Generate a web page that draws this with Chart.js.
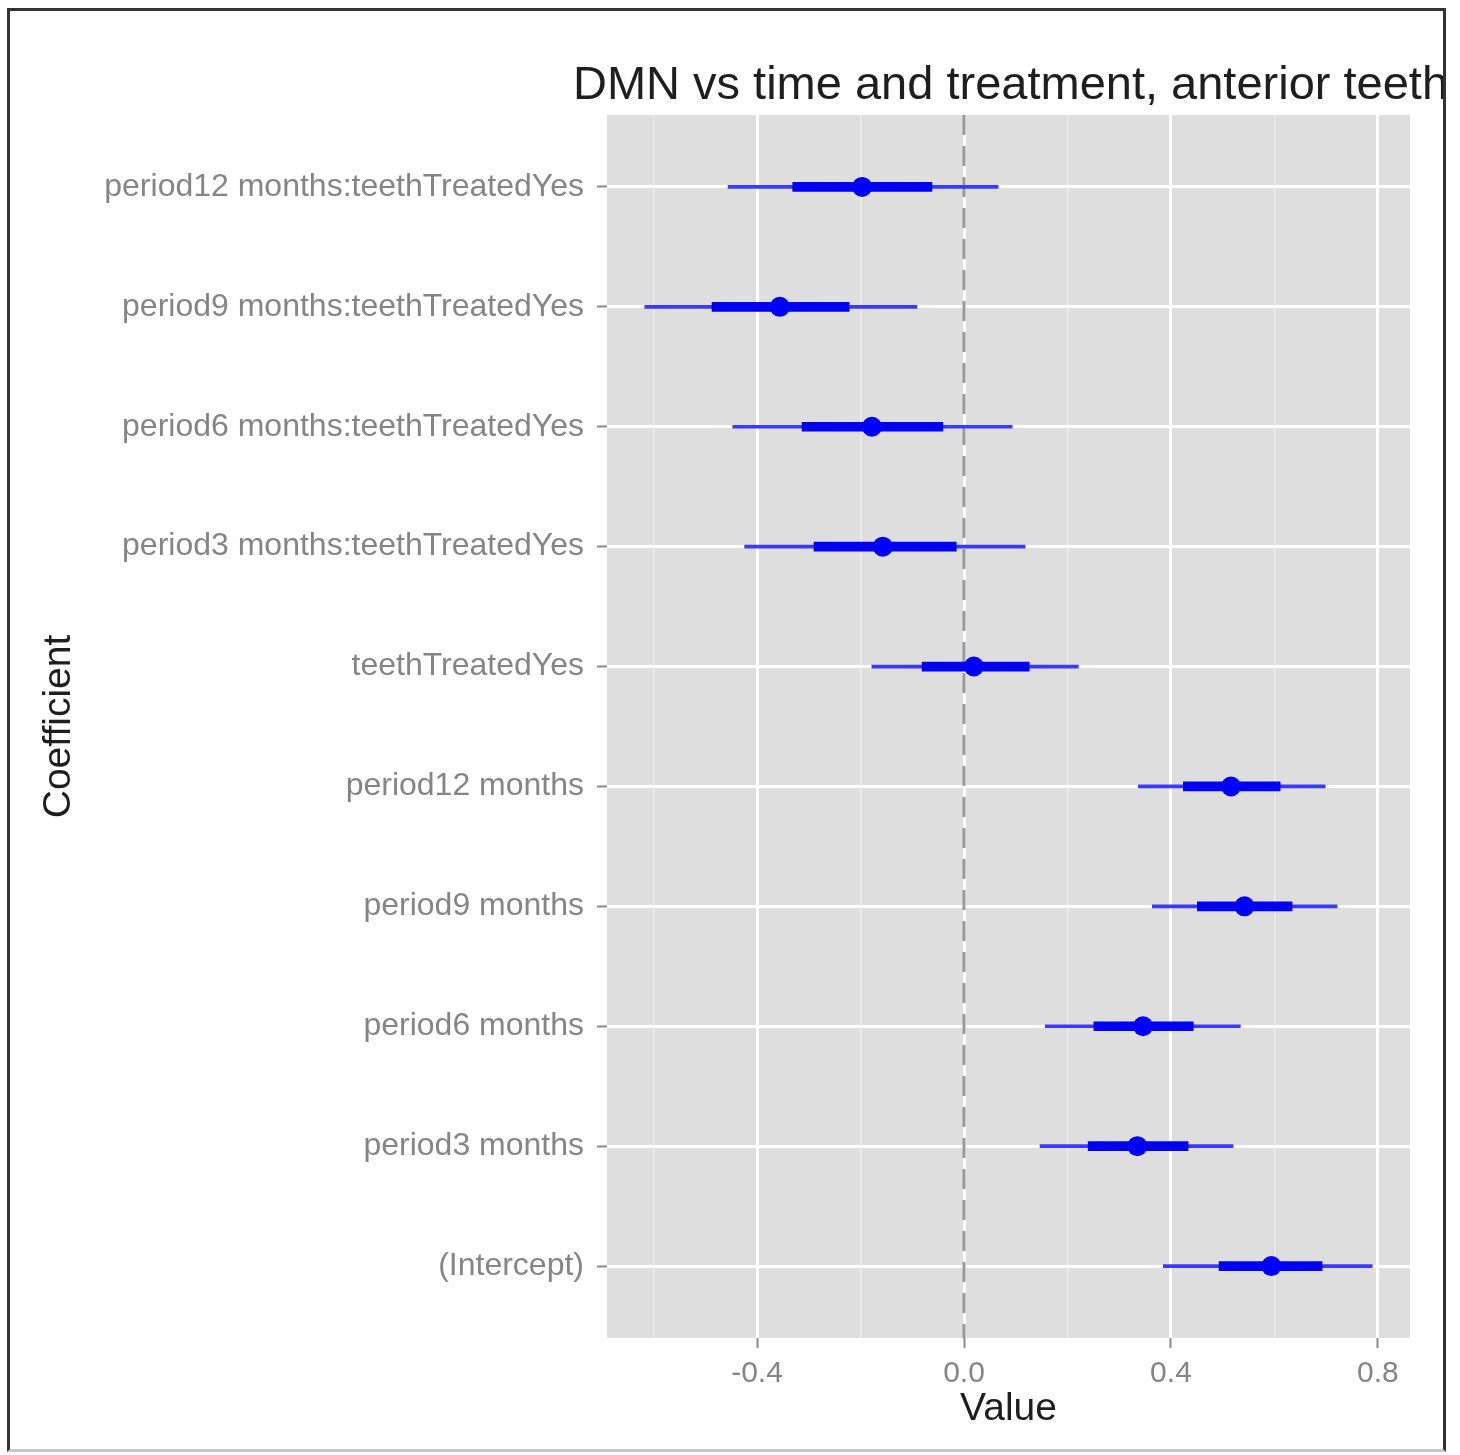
<!DOCTYPE html>
<html>
<head>
<meta charset="utf-8">
<script src="https://cdn.jsdelivr.net/npm/chart.js@4.4.1/dist/chart.umd.min.js"></script>
<style>
  body { margin: 0; background: #fff; }
  #wrap { position: relative; width: 1460px; height: 1455px; }
  #coefChart { position: absolute; left: 0; top: 0; }
  #frame {
    position: absolute; left: 7px; top: 8px; width: 1433px; height: 1438px;
    border: 3px solid #333; border-bottom-color: #c8c8c8; pointer-events: none;
  }
</style>
</head>
<body>
<div id="wrap">
  <canvas id="coefChart" width="1445" height="1455"></canvas>
  <div id="frame"></div>
</div>
<script>
const chartTitle = 'DMN vs time and treatment, anterior teeth';

const coefficients = [
  'period12 months:teethTreatedYes',
  'period9 months:teethTreatedYes',
  'period6 months:teethTreatedYes',
  'period3 months:teethTreatedYes',
  'teethTreatedYes',
  'period12 months',
  'period9 months',
  'period6 months',
  'period3 months',
  '(Intercept)'
];

// point estimates
const estimate = [-0.197, -0.356, -0.178, -0.157, 0.019, 0.516, 0.542, 0.346, 0.335, 0.594];
// inner (thick) interval
const innerLow  = [-0.331, -0.487, -0.313, -0.290, -0.081, 0.424, 0.451, 0.251, 0.240, 0.493];
const innerHigh = [-0.062, -0.222, -0.041, -0.015, 0.126, 0.611, 0.634, 0.443, 0.433, 0.692];
// outer (thin) interval
const outerLow  = [-0.456, -0.617, -0.447, -0.424, -0.178, 0.337, 0.364, 0.157, 0.147, 0.385];
const outerHigh = [0.066, -0.091, 0.093, 0.118, 0.221, 0.698, 0.721, 0.534, 0.520, 0.789];

const xTicks = [-0.6, -0.4, -0.2, 0.0, 0.2, 0.4, 0.6, 0.8];
const xMajor = [-0.4, 0.0, 0.4, 0.8];
const refValue = 0;

const isMajor = v => xMajor.some(m => Math.abs(m - v) < 1e-9);
const FONT = '"Liberation Sans", Arial, Helvetica, sans-serif';

const panelBg = {
  id: 'panelBg',
  beforeDraw(chart) {
    const { ctx, chartArea: a } = chart;
    ctx.save();
    ctx.fillStyle = '#dedede';
    ctx.fillRect(a.left, a.top, a.right - a.left, a.bottom - a.top);
    ctx.restore();
  }
};

const plotTitle = {
  id: 'plotTitle',
  afterDraw(chart) {
    const { ctx, chartArea: a } = chart;
    ctx.save();
    ctx.font = '47px ' + FONT;
    ctx.fillStyle = '#1e1e1e';
    ctx.textAlign = 'center';
    ctx.textBaseline = 'middle';
    ctx.fillText(chartTitle, (a.left + a.right) / 2 + 2, 86);
    ctx.restore();
  }
};

const rows = coefficients.map((_, i) => i);

new Chart(document.getElementById('coefChart').getContext('2d'), {
  type: 'bar',
  data: {
    datasets: [
      {
        type: 'line',
        data: rows.map(i => ({ x: estimate[i], y: i })),
        showLine: false,
        pointRadius: 10,
        pointBorderWidth: 0,
        pointBackgroundColor: '#0000ff'
      },
      {
        data: rows.map(i => ({ y: i, x: [innerLow[i], innerHigh[i]] })),
        backgroundColor: '#0000f0',
        barThickness: 9,
        grouped: false
      },
      {
        data: rows.map(i => ({ y: i, x: [outerLow[i], outerHigh[i]] })),
        backgroundColor: '#3a3aff',
        barThickness: 3,
        grouped: false
      },
      {
        type: 'line',
        data: [{ x: refValue, y: -0.6 }, { x: refValue, y: coefficients.length - 0.4 }],
        borderColor: '#999999',
        borderWidth: 3,
        borderDash: [20, 11],
        pointRadius: 0
      }
    ]
  },
  options: {
    indexAxis: 'y',
    responsive: false,
    animation: false,
    devicePixelRatio: 1,
    layout: { padding: { top: 115, right: 35, left: 0, bottom: 0 } },
    plugins: {
      legend: { display: false },
      tooltip: { enabled: false }
    },
    scales: {
      x: {
        type: 'linear',
        min: -0.69,
        max: 0.862,
        offset: false,
        afterBuildTicks: s => { s.ticks = xTicks.map(v => ({ value: v })); },
        afterFit: s => { s.height = 117; },
        ticks: {
          font: { family: FONT, size: 30 },
          color: '#858585',
          padding: 8,
          callback: v => isMajor(v) ? v.toFixed(1) : ''
        },
        grid: {
          offset: false,
          color: c => isMajor(c.tick.value) ? '#ffffff' : '#ececec',
          lineWidth: c => isMajor(c.tick.value) ? 3 : 1.5,
          tickColor: c => isMajor(c.tick.value) ? '#8a8a8a' : 'rgba(0,0,0,0)',
          tickLength: 10,
          tickWidth: 2
        },
        border: { display: false },
        title: {
          display: true,
          text: 'Value',
          font: { family: FONT, size: 39 },
          color: '#1e1e1e',
          padding: { top: 0, bottom: 22 }
        }
      },
      y: {
        type: 'linear',
        reverse: true,
        offset: false,
        min: -0.6,
        max: coefficients.length - 0.4,
        afterBuildTicks: s => { s.ticks = rows.map(v => ({ value: v })); },
        afterFit: s => { s.width = 607; },
        ticks: {
          font: { family: FONT, size: 32 },
          color: '#858585',
          padding: 13,
          callback: v => coefficients[v]
        },
        grid: {
          offset: false,
          color: '#ffffff',
          lineWidth: 3,
          tickColor: '#8a8a8a',
          tickLength: 10,
          tickWidth: 2
        },
        border: { display: false },
        title: {
          display: true,
          text: 'Coefficient',
          font: { family: FONT, size: 39 },
          color: '#1e1e1e',
          padding: { top: 36, bottom: 0 }
        }
      }
    }
  },
  plugins: [panelBg, plotTitle]
});
</script>
</body>
</html>
